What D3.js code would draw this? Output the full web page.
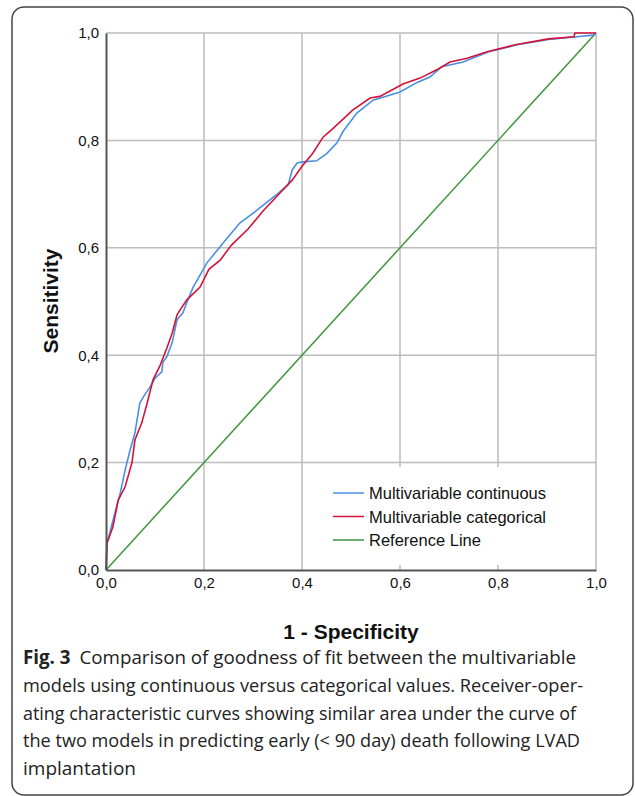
<!DOCTYPE html>
<html>
<head>
<meta charset="utf-8">
<script src="https://cdn.jsdelivr.net/npm/d3@7"></script>
<style>
	body { margin: 0; background: #fff; }
</style>
</head>
<body>
<div class="container"></div>
<script>

// ROC points (1 - specificity, sensitivity)
var contFpr = [0, 0.002, 0.008, 0.018, 0.029, 0.039, 0.049, 0.059, 0.069, 0.076, 0.09, 0.1, 0.114, 0.116, 0.124, 0.135, 0.145, 0.157, 0.167, 0.178, 0.206, 0.239, 0.273, 0.308, 0.352, 0.372, 0.38, 0.39, 0.402, 0.43, 0.451, 0.471, 0.484, 0.512, 0.545, 0.6, 0.635, 0.661, 0.685, 0.729, 0.781, 0.839, 0.903, 0.961, 0.994, 1];
var contTpr = [0, 0.05, 0.07, 0.106, 0.143, 0.186, 0.223, 0.255, 0.311, 0.322, 0.341, 0.357, 0.369, 0.387, 0.397, 0.423, 0.466, 0.479, 0.503, 0.527, 0.572, 0.609, 0.646, 0.67, 0.702, 0.718, 0.745, 0.758, 0.76, 0.762, 0.776, 0.795, 0.817, 0.851, 0.875, 0.89, 0.908, 0.918, 0.937, 0.946, 0.965, 0.978, 0.988, 0.993, 0.996, 1];

var catFpr = [0, 0.002, 0.014, 0.025, 0.039, 0.053, 0.059, 0.073, 0.084, 0.096, 0.11, 0.124, 0.135, 0.145, 0.151, 0.165, 0.192, 0.21, 0.233, 0.256, 0.29, 0.32, 0.355, 0.38, 0.4, 0.422, 0.443, 0.463, 0.504, 0.539, 0.559, 0.606, 0.641, 0.678, 0.702, 0.737, 0.778, 0.835, 0.903, 0.955, 0.957, 1];
var catTpr = [0, 0.05, 0.08, 0.13, 0.155, 0.2, 0.242, 0.274, 0.311, 0.354, 0.38, 0.413, 0.441, 0.475, 0.484, 0.503, 0.527, 0.56, 0.577, 0.605, 0.635, 0.668, 0.702, 0.726, 0.752, 0.776, 0.806, 0.822, 0.857, 0.879, 0.882, 0.905, 0.916, 0.933, 0.946, 0.953, 0.965, 0.978, 0.989, 0.993, 1, 1];

var refX = [0, 1];
var refY = [0, 1];

var tickVals = [0, 0.2, 0.4, 0.6, 0.8, 1];
var tickLabels = ["0,0", "0,2", "0,4", "0,6", "0,8", "1,0"];

var seriesNames = ["Multivariable continuous", "Multivariable categorical", "Reference Line"];
var seriesColors = ["#4a90e2", "#d2143a", "#3c963c"];

var captionBold = "Fig. 3";
var captionLines = [
	"Comparison of goodness of fit between the multivariable",
	"models using continuous versus categorical values. Receiver-oper-",
	"ating characteristic curves showing similar area under the curve of",
	"the two models in predicting early (< 90 day) death following LVAD",
	"implantation"
];
var captionEnds = [576, 583, 576, 580, null];

var chartFont = "'Liberation Sans', Arial, sans-serif";
var capFont = "'Open Sans', 'Noto Sans', sans-serif";

var W = 635, H = 796;
var svg = d3.select(".container").append("svg")
	.attr("width", W)
	.attr("height", H);

// outer frame
svg.append("rect")
	.attr("x", 12).attr("y", 7)
	.attr("width", 621).attr("height", 788)
	.attr("rx", 12)
	.style("fill", "none")
	.style("stroke", "#444")
	.style("stroke-width", 1.5);

var x = d3.scaleLinear().domain([0, 1]).range([106, 596]);
var y = d3.scaleLinear().domain([0, 1]).range([570, 33]);

// grid
var grid = svg.append("g");
grid.selectAll("line.vx").data(tickVals.slice(1)).enter().append("line")
	.attr("x1", function(d) { return x(d); }).attr("x2", function(d) { return x(d); })
	.attr("y1", y(0)).attr("y2", y(1))
	.style("stroke", "#bdbdbd").style("stroke-width", 1.5);
grid.selectAll("line.hy").data(tickVals.slice(1)).enter().append("line")
	.attr("y1", function(d) { return y(d); }).attr("y2", function(d) { return y(d); })
	.attr("x1", x(0)).attr("x2", x(1))
	.style("stroke", "#bdbdbd").style("stroke-width", 1.5);

// legend background hides the grid behind it
svg.append("rect")
	.attr("x", 316).attr("y", 467)
	.attr("width", 278).attr("height", 98)
	.style("fill", "#fff");

// curves
function pts(xs, ys) { return xs.map(function(v, i) { return [v, ys[i]]; }); }
var line = d3.line().x(function(d) { return x(d[0]); }).y(function(d) { return y(d[1]); });

svg.append("path").datum(pts(refX, refY)).attr("d", line)
	.style("fill", "none").style("stroke", seriesColors[2]).style("stroke-width", 1.5);
svg.append("path").datum(pts(contFpr, contTpr)).attr("d", line)
	.style("fill", "none").style("stroke", seriesColors[0]).style("stroke-width", 1.6);
svg.append("path").datum(pts(catFpr, catTpr)).attr("d", line)
	.style("fill", "none").style("stroke", seriesColors[1]).style("stroke-width", 1.6);

// axes
var xAxis = d3.axisBottom(x).tickValues(tickVals).tickSize(0).tickPadding(7)
	.tickFormat(function(d, i) { return tickLabels[i]; });
var yAxis = d3.axisLeft(y).tickValues(tickVals).tickSize(0).tickPadding(7)
	.tickFormat(function(d, i) { return tickLabels[i]; });

var gx = svg.append("g").attr("transform", "translate(0," + y(0) + ")").call(xAxis);
var gy = svg.append("g").attr("transform", "translate(" + x(0) + ",0)").call(yAxis);
[gx, gy].forEach(function(g) {
	g.select(".domain").style("stroke", "#555").style("stroke-width", 2);
	g.selectAll("text").style("font-family", chartFont)
		.style("font-size", "15px").style("fill", "#111");
});

// axis titles
svg.append("text")
	.attr("x", 351).attr("y", 639)
	.attr("text-anchor", "middle")
	.style("font-family", chartFont)
	.style("font-size", "21px").style("font-weight", "bold").style("fill", "#111")
	.text("1 - Specificity");
svg.append("text")
	.attr("transform", "translate(58,301) rotate(-90)")
	.attr("text-anchor", "middle")
	.style("font-family", chartFont)
	.style("font-size", "21px").style("font-weight", "bold").style("fill", "#111")
	.text("Sensitivity");

// legend
var leg = svg.append("g");
seriesNames.forEach(function(name, i) {
	var ly = 493 + i * 23.5;
	leg.append("line")
		.attr("x1", 333).attr("x2", 364).attr("y1", ly).attr("y2", ly)
		.style("stroke", seriesColors[i]).style("stroke-width", 1.5);
	leg.append("text")
		.attr("x", 369).attr("y", ly + 6)
		.style("font-family", chartFont)
		.style("font-size", "16.5px").style("fill", "#111")
		.text(name);
});

// caption
captionLines.forEach(function(t, i) {
	var tx = svg.append("text")
		.attr("x", 23).attr("y", 664 + i * 27.8)
		.style("font-family", capFont)
		.style("font-size", "19px").style("fill", "#222");
	if (captionEnds[i]) {
		tx.attr("textLength", captionEnds[i] - 23).attr("lengthAdjust", "spacingAndGlyphs");
	}
	if (i == 0) {
		tx.append("tspan").style("font-weight", "bold").text(captionBold);
		tx.append("tspan").attr("dx", 9).text(t);
	} else {
		tx.text(t);
	}
});

</script>
</body>
</html>
